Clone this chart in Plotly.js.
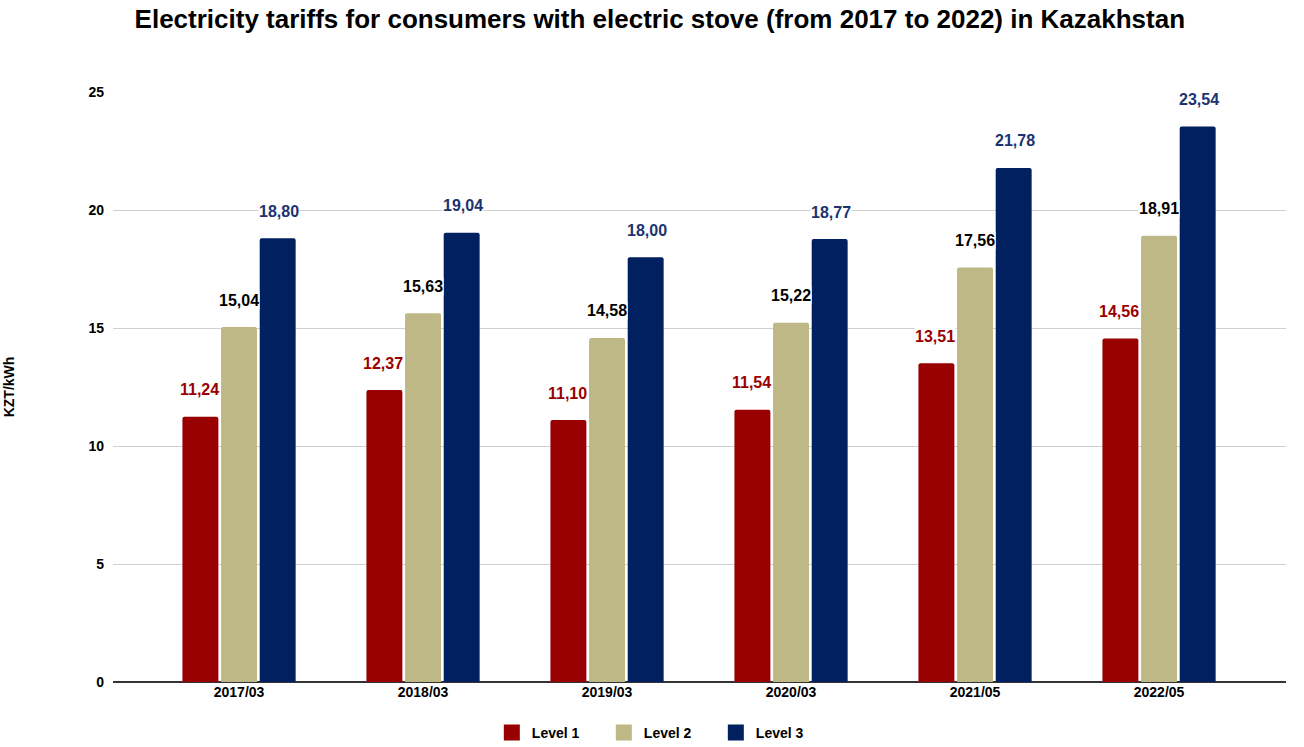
<!DOCTYPE html>
<html><head><meta charset="utf-8">
<script src="https://cdn.plot.ly/plotly-3.0.1.min.js"></script>
<style>body{margin:0;background:#fff}#c{width:1304px;height:747px}</style>
</head><body><div id="c"></div>
<script>
const categories = ["2017/03","2018/03","2019/03","2020/03","2021/05","2022/05"];
const level1 = [11.24, 12.37, 11.10, 11.54, 13.51, 14.56];
const level2 = [15.04, 15.63, 14.58, 15.22, 17.56, 18.91];
const level3 = [18.80, 19.04, 18.00, 18.77, 21.78, 23.54];
const seriesNames = ["Level 1","Level 2","Level 3"];
const barColors = ["#990000","#bdb886","#00205f"];
const labelColors = ["#990000","#000000","#1c3370"];

const F = "Liberation Sans, Arial, sans-serif";
const series = [level1, level2, level3];
const fmt = v => v.toFixed(2).replace(".", ",");

const traces = series.map((vals, i) => ({
  type: "bar", name: seriesNames[i], x: categories, y: vals,
  marker: {color: barColors[i], cornerradius: 2},
  hoverinfo: "none", showlegend: false
}));
// legend entries with larger square swatches
seriesNames.forEach((n, i) => {
  traces.push({type: "scatter", mode: "markers", name: n, x: [categories[0]], y: [null],
    marker: {symbol: "square", size: 18, color: barColors[i]}, showlegend: true, hoverinfo: "none"});
});

const shifts = [-40, 0, 40];
const annotations = [];
series.forEach((vals, i) => {
  vals.forEach((v, j) => {
    annotations.push({
      x: categories[j], y: v, xref: "x", yref: "y",
      text: "<b>" + fmt(v) + "</b>", showarrow: false,
      xshift: shifts[i], yshift: 27, yanchor: "middle",
      font: {family: F, size: 16, color: labelColors[i]},
      bgcolor: "rgba(255,255,255,1)", borderpad: 0
    });
  });
});

const layout = {
  width: 1304, height: 747,
  paper_bgcolor: "#fff", plot_bgcolor: "#fff",
  margin: {l: 113, r: 18, t: 92, b: 65, autoexpand: false},
  title: {text: "<b>Electricity tariffs for consumers with electric stove (from 2017 to 2022) in Kazakhstan</b>",
    font: {family: F, size: 26, color: "#000"}, x: 0.506, xanchor: "center", y: 0.975, yanchor: "middle"},
  barmode: "group", bargap: 0.37, bargroupgap: 0.07,
  xaxis: {type: "category", range: [-0.685, 5.69], showgrid: false,
    tickfont: {family: F, size: 14, color: "#000"}, ticklabelstandoff: 0,
    tickprefix: "<b>", ticksuffix: "</b>", showline: false, zeroline: false, ticks: ""},
  yaxis: {range: [0, 25], dtick: 5, gridcolor: "#d0d0d0", gridwidth: 1,
    zeroline: true, zerolinecolor: "#333", zerolinewidth: 1.5,
    tickfont: {family: F, size: 14, color: "#000"}, tickprefix: "<b>", ticksuffix: "</b>",
    ticklabelstandoff: 8,
    title: {text: "<b>KZT/kWh</b>", font: {family: F, size: 14, color: "#000"}, standoff: 70}},
  legend: {orientation: "h", x: 0.506, xanchor: "center", xref: "container", yref: "container", y: 0.019, yanchor: "middle",
    font: {family: F, size: 14, color: "#000"}, itemwidth: 30, entrywidth: 67, traceorder: "normal"},
  annotations: annotations,
  showlegend: true
};
Plotly.newPlot("c", traces, layout, {displayModeBar: false, staticPlot: true}).then(() => {
  document.querySelectorAll(".legendtext").forEach(t => t.style.fontWeight = "bold");
});
</script></body></html>
